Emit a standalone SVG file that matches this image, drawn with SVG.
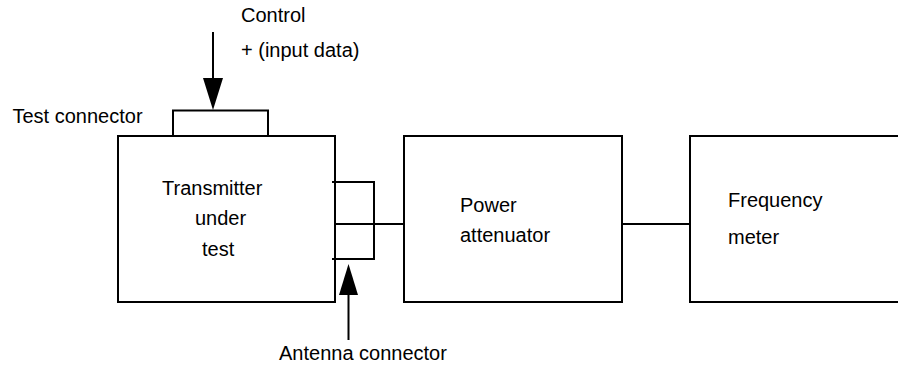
<svg xmlns="http://www.w3.org/2000/svg" width="898" height="365" viewBox="0 0 898 365">
<style>
.box{fill:#fff;stroke:#000;stroke-width:2}
.ln{fill:none;stroke:#000;stroke-width:2}
.ah{fill:#000;stroke:none}
text{font-family:"Liberation Sans",Arial,sans-serif;font-size:20px;fill:#000}
</style>
<rect width="898" height="365" fill="#fff"/>
<g id="connectors">
<line class="ln" x1="335" y1="224" x2="404" y2="224"/>
<line class="ln" x1="622" y1="224" x2="690" y2="224"/>
<line class="ln" x1="213" y1="32" x2="213" y2="80"/>
<polygon class="ah" points="203,78 223,78 213,110"/>
<line class="ln" x1="348.5" y1="292" x2="348.5" y2="340"/>
<polygon class="ah" points="339,295 358,295 348.5,264"/>
</g>
<g id="transmitter">
<rect class="box" x="118" y="136" width="217" height="166"/>
<text x="162" y="195">Transmitter</text>
<text x="195" y="225">under</text>
<text x="202" y="256">test</text>
</g>
<g id="test-connector">
<rect class="box" x="173" y="110.5" width="95" height="25.5"/>
<text x="12.5" y="123">Test connector</text>
</g>
<g id="control-label">
<text x="241" y="22">Control</text>
<text x="241" y="57">+ (input data)</text>
</g>
<g id="antenna-connector">
<path class="ln" d="M332 182 H374 V259 H332"/>
<text x="279" y="360">Antenna connector</text>
</g>
<g id="power-attenuator">
<rect class="box" x="404" y="136" width="218" height="166"/>
<text x="460" y="212">Power</text>
<text x="460" y="242">attenuator</text>
</g>
<g id="frequency-meter">
<rect class="box" x="690" y="136" width="230" height="166"/>
<text x="728" y="207">Frequency</text>
<text x="728" y="244">meter</text>
</g>
</svg>
